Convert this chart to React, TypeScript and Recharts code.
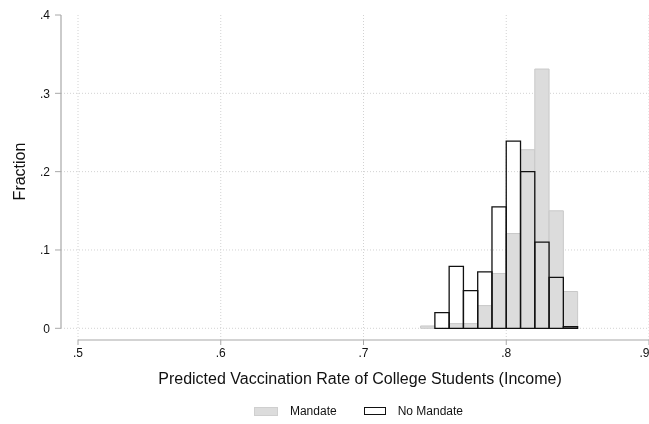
import { BarChart, Bar, XAxis, YAxis, CartesianGrid, ReferenceLine, Legend } from 'recharts';

// histogram bins, width .01, given by their centres
const BIN_CENTERS = [0.745, 0.755, 0.765, 0.775, 0.785, 0.795, 0.805, 0.815, 0.825, 0.835, 0.845];
const MANDATE = [0.003, null, 0.006, 0.006, 0.029, 0.07, 0.121, 0.228, 0.331, 0.15, 0.047];
const NO_MANDATE = [null, 0.02, 0.079, 0.048, 0.072, 0.155, 0.239, 0.2, 0.11, 0.065, 0.002];

const X_TICKS = [0.5, 0.6, 0.7, 0.8, 0.9];
const Y_TICKS = [0, 0.1, 0.2, 0.3, 0.4];
const Y_GRID = [0, 0.1, 0.2, 0.3];

// axes sit a little off the plot region, Stata style
const X_MIN = 0.48809;
const Y_MIN = -0.01494;

const FONT = '"Liberation Sans", Arial, sans-serif';
const AXIS_GRAY = '#a8a8a8';

const data = BIN_CENTERS.map((x, i) => ({
  x,
  mandate: MANDATE[i],
  noMandate: NO_MANDATE[i],
}));

const fmt = (v: number) => (v === 0 ? '0' : v.toFixed(1).replace(/^0/, ''));

function LegendContent({ payload }: any) {
  return (
    <div style={{
      height: 24,
      display: 'flex',
      alignItems: 'center',
      justifyContent: 'center',
      paddingLeft: 68,
      fontFamily: FONT,
      fontSize: 12,
      color: '#111',
    }}>
      {(payload || []).map((p: any, i: number) => (
        <div key={p.value} style={{ display: 'flex', alignItems: 'center', marginLeft: i ? 27 : 0 }}>
          <span style={{
            width: i ? 20 : 22,
            height: i ? 6 : 7,
            background: i ? 'transparent' : '#dcdcdc',
            border: i ? '1.2px solid #111' : '0.5px solid #cfcfcf',
            marginRight: 12,
          }} />
          <span>{p.value}</span>
        </div>
      ))}
    </div>
  );
}

export default function App() {
  return (
    <div style={{ position: 'fixed', left: 0, top: 0 }}>
      <BarChart
        width={649}
        height={424}
        data={data}
        margin={{ top: 15, right: 0, bottom: 1, left: 0 }}
        barCategoryGap={0}
      >
        <CartesianGrid
          xAxisId="a"
          stroke="#d2d2d2"
          strokeDasharray="1 2"
          horizontalValues={Y_GRID}
          verticalValues={X_TICKS}
        />
        <XAxis
          xAxisId="a"
          dataKey="x"
          type="number"
          domain={[X_MIN, 0.9]}
          ticks={X_TICKS}
          tickFormatter={fmt}
          axisLine={false}
          tickLine={{ stroke: AXIS_GRAY }}
          tickSize={5}
          tickMargin={3}
          height={59}
          tick={{ fontSize: 12, fill: '#111', fontFamily: FONT }}
          label={(p: any) => (
            <text x={360} y={384} textAnchor="middle" fontSize={16} fontFamily={FONT} fill="#111">
              Predicted Vaccination Rate of College Students (Income)
            </text>
          )}
        />
        <XAxis xAxisId="b" dataKey="x" type="number" domain={[X_MIN, 0.9]} hide />
        <YAxis
          type="number"
          domain={[Y_MIN, 0.4]}
          ticks={Y_TICKS}
          tickFormatter={fmt}
          axisLine={false}
          tickLine={{ stroke: AXIS_GRAY }}
          tickSize={6}
          tickMargin={5}
          width={61}
          tick={{ fontSize: 12, fill: '#111', fontFamily: FONT }}
          label={(p: any) => (
            <text
              x={24.5}
              y={171.5}
              textAnchor="middle"
              fontSize={16}
              fontFamily={FONT}
              fill="#111"
              transform="rotate(-90 24.5 171.5)"
            >
              Fraction
            </text>
          )}
        />
        <Bar
          xAxisId="a"
          dataKey="mandate"
          name="Mandate"
          fill="#dcdcdc"
          stroke="#c9c9c9"
          strokeWidth={1}
          barSize={14.27}
          isAnimationActive={false}
        />
        <Bar
          xAxisId="b"
          dataKey="noMandate"
          name="No Mandate"
          fill="none"
          stroke="#111"
          strokeWidth={1.3}
          barSize={14.27}
          isAnimationActive={false}
        />
        <ReferenceLine
          xAxisId="a"
          segment={[{ x: 0.5, y: Y_MIN }, { x: 0.9, y: Y_MIN }]}
          stroke={AXIS_GRAY}
          strokeWidth={1.2}
        />
        <ReferenceLine
          xAxisId="a"
          segment={[{ x: X_MIN, y: 0 }, { x: X_MIN, y: 0.4 }]}
          stroke={AXIS_GRAY}
          strokeWidth={1.2}
        />
        <Legend verticalAlign="bottom" content={<LegendContent />} />
      </BarChart>
    </div>
  );
}
